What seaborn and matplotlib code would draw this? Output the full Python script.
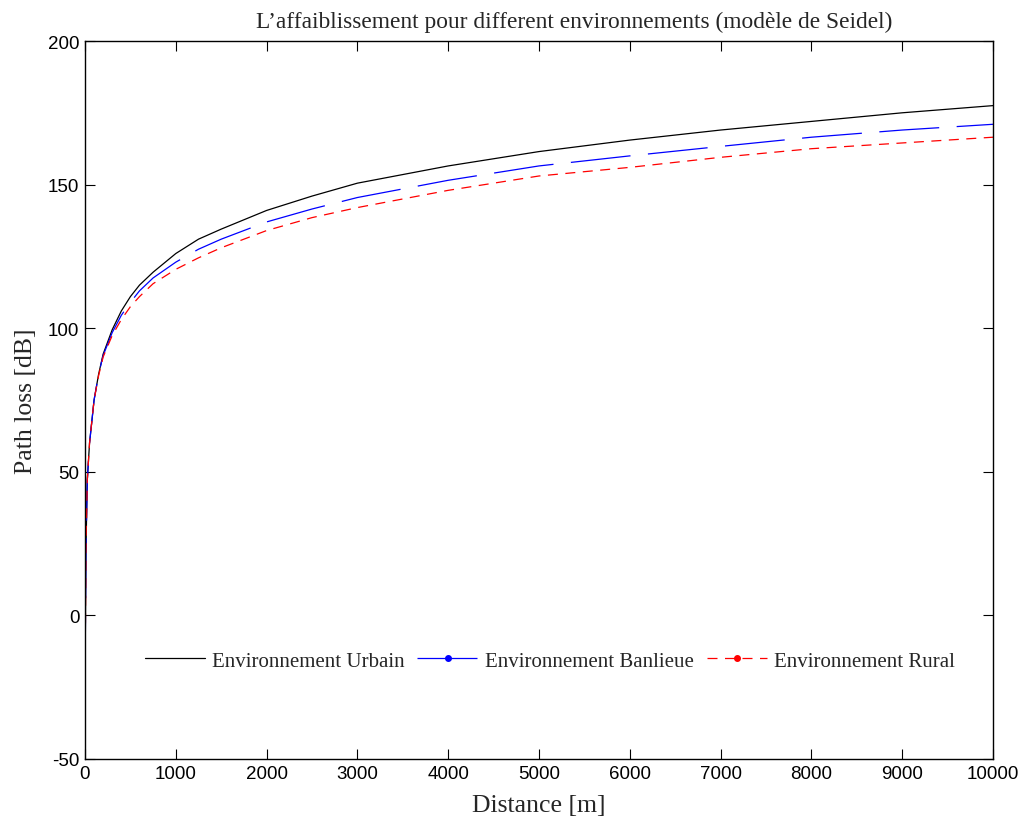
import matplotlib
matplotlib.use("Agg")
import matplotlib.pyplot as plt
from matplotlib.lines import Line2D
import seaborn as sns
import pandas as pd

# Distances (m) at which the path loss was sampled
distance = [1, 10, 25, 50, 100, 150, 200, 300, 400, 500, 600, 750, 1000,
            1250, 1500, 2000, 2500, 3000, 4000, 5000, 6000, 7000, 8000,
            9000, 10000]

# Path loss (dB) for each environment
loss_urbain = [-21, 22, 47, 60, 75, 84, 91, 99.5, 106, 111, 115, 119.5, 126,
               131, 134.5, 141, 146, 150.5, 156.5, 161.5, 165.5, 169, 172,
               175, 177.5]
loss_banlieue = [-21, 22, 47, 60, 75, 84, 90.5, 98.5, 104.5, 109, 113, 117.5,
                 123, 127.5, 131, 137, 141.5, 145.5, 151.5, 156.5, 160, 163.3,
                 166.5, 169, 171]
loss_rural = [-21, 22, 47, 60, 75, 83.5, 90, 97.5, 103, 107.5, 111, 115.5,
              120.5, 124.5, 128, 134, 138.5, 142, 148, 153, 156, 159.5, 162.5,
              164.5, 166.5]

labels = ["Environnement Urbain", "Environnement Banlieue", "Environnement Rural"]
title = "L\u2019affaiblissement pour different environnements (mod\u00e8le de Seidel)"
x_ticks = list(range(0, 10001, 1000))
y_ticks = list(range(-50, 201, 50))

sns.set_theme(style="white")
plt.rcParams["font.family"] = ["Liberation Serif", "DejaVu Serif"]

serif = ["Liberation Serif", "DejaVu Serif"]
sans = ["Liberation Sans", "DejaVu Sans"]

fig = plt.figure(figsize=(10.23, 8.20), dpi=100)
ax = fig.add_axes([85 / 1023, 1 - 760 / 820, 908 / 1023, 718 / 820])

df = pd.DataFrame({"d": distance, "u": loss_urbain, "b": loss_banlieue, "r": loss_rural})

blue_dash = (0, (48, 14))
red_dash = (0, (8, 6))

sns.lineplot(data=df, x="d", y="u", ax=ax, color="black", linewidth=0.9,
             estimator=None, sort=False)
sns.lineplot(data=df, x="d", y="b", ax=ax, color="blue", linewidth=0.9,
             linestyle=blue_dash, estimator=None, sort=False)
sns.lineplot(data=df, x="d", y="r", ax=ax, color="red", linewidth=0.9,
             linestyle=red_dash, estimator=None, sort=False)

ax.set_xlim(0, 10000)
ax.set_ylim(-50, 200)
ax.set_xticks(x_ticks)
ax.set_yticks(y_ticks)
ax.set_xticklabels([str(t) for t in x_ticks], family=sans, fontsize=13.5)
ax.set_yticklabels([str(t) for t in y_ticks], family=sans, fontsize=13.5)
ax.tick_params(direction="in", length=7, width=0.8, colors="black",
               top=True, right=True, bottom=True, left=True, pad=4)
for s in ax.spines.values():
    s.set_visible(True)
    s.set_color("black")
    s.set_linewidth(1.0)

ax.set_xlabel("Distance [m]", family=serif, fontsize=18.5, labelpad=9)
ax.set_ylabel("Path loss [dB]", family=serif, fontsize=18.5, labelpad=8)
ax.set_title(title, family=serif, fontsize=16.8, pad=10, x=0.539)

handles = [
    Line2D([], [], color="black", linewidth=0.9),
    Line2D([], [], color="blue", linewidth=0.9, marker=".", markersize=8,
           markevery=[1], linestyle=blue_dash),
    Line2D([], [], color="red", linewidth=0.9, marker=".", markersize=8,
           markevery=[1], linestyle=red_dash),
]
ax.legend(handles, labels, loc="center", bbox_to_anchor=(0.512, 0.1365),
          ncol=3, frameon=False, prop={"family": serif, "size": 15},
          handlelength=2.9, handletextpad=0.35, columnspacing=0.6)

fig.savefig("out.png", dpi=100, facecolor="white")
